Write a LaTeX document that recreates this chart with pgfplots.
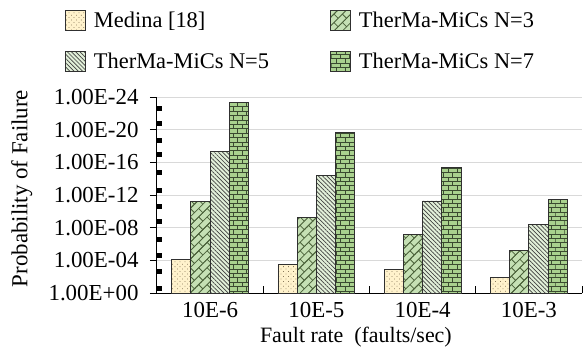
\documentclass[border=0pt]{standalone}
\usepackage{fontspec}
\setmainfont{Liberation Serif}
\usepackage{pgfplots}
\pgfplotsset{compat=1.18}
\usetikzlibrary{patterns.meta}

\definecolor{medfill}{HTML}{FFF2CC}
\definecolor{meddot}{HTML}{8A7A5C}
\definecolor{nthreefill}{HTML}{C5E0B4}
\definecolor{nthreeline}{HTML}{4A6139}
\definecolor{nfivefill}{HTML}{E2F0D9}
\definecolor{nfiveline}{HTML}{404040}
\definecolor{nsevenfill}{HTML}{A9D18E}
\definecolor{nsevenline}{HTML}{3A4A30}
\definecolor{baredge}{HTML}{303030}

\pgfdeclarepattern{
  name=dbricks, type=uncolored,
  bottom left={\pgfpoint{-0.5pt}{-0.5pt}},
  top right={\pgfpoint{12.5pt}{12.5pt}},
  tile size={\pgfpoint{12pt}{12pt}},
  tile transformation={\pgftransformrotate{45}},
  code={
    \pgfsetlinewidth{0.8pt}
    \pgfpathmoveto{\pgfpoint{0pt}{0pt}}\pgfpathlineto{\pgfpoint{12pt}{0pt}}
    \pgfpathmoveto{\pgfpoint{0pt}{6pt}}\pgfpathlineto{\pgfpoint{12pt}{6pt}}
    \pgfpathmoveto{\pgfpoint{0pt}{12pt}}\pgfpathlineto{\pgfpoint{12pt}{12pt}}
    \pgfpathmoveto{\pgfpoint{0pt}{0pt}}\pgfpathlineto{\pgfpoint{0pt}{6pt}}
    \pgfpathmoveto{\pgfpoint{6pt}{6pt}}\pgfpathlineto{\pgfpoint{6pt}{12pt}}
    \pgfusepath{stroke}
  }
}
\pgfdeclarepattern{
  name=hbricks, type=uncolored,
  bottom left={\pgfpoint{-0.5pt}{-0.5pt}},
  top right={\pgfpoint{9.5pt}{9.3pt}},
  tile size={\pgfpoint{9pt}{8.8pt}},
  code={
    \pgfsetlinewidth{0.9pt}
    \pgfpathmoveto{\pgfpoint{0pt}{0pt}}\pgfpathlineto{\pgfpoint{9pt}{0pt}}
    \pgfpathmoveto{\pgfpoint{0pt}{4.4pt}}\pgfpathlineto{\pgfpoint{9pt}{4.4pt}}
    \pgfpathmoveto{\pgfpoint{0pt}{8.8pt}}\pgfpathlineto{\pgfpoint{9pt}{8.8pt}}
    \pgfpathmoveto{\pgfpoint{0pt}{0pt}}\pgfpathlineto{\pgfpoint{0pt}{4.4pt}}
    \pgfpathmoveto{\pgfpoint{4.5pt}{4.4pt}}\pgfpathlineto{\pgfpoint{4.5pt}{8.8pt}}
    \pgfusepath{stroke}
  }
}

\begin{document}
\begin{tikzpicture}[font=\fontsize{23}{27}\selectfont]
\begin{axis}[
  scale only axis, width=425bp, height=196bp,
  xmin=-0.5, xmax=3.5, ymin=0, ymax=24,
  axis lines*=left,
  axis line style={black, line width=1bp},
  ybar=0pt, bar width=0.181,
  xtick={0.5,1.5,2.5,3.5}, xticklabels={},
  extra x ticks={0,1,2,3},
  extra x tick labels={10E-6,10E-5,10E-4,10E-3},
  extra x tick style={major tick length=0pt},
  xticklabel style={yshift=-6bp, font=\fontsize{23}{27}\selectfont},
  ytick={0,4,8,12,16,20,24},
  yticklabels={1.00E+00,1.00E-04,1.00E-08,1.00E-12,1.00E-16,1.00E-20,1.00E-24},
  minor ytick={0.5,2.6,4.6,6.6,8.7,10.6,12.6,14.8,16.9,18.7,20.8,22.6},
  tick align=inside, major tick length=7bp, minor tick length=5bp,
  major y tick style={xshift=-7bp, line width=1bp, black},
  major x tick style={line width=1bp, black},
  minor y tick style={line width=5bp, black},
  yticklabel style={xshift=-15bp, font=\fontsize{23}{27}\selectfont},
  ymajorgrids, grid style={draw=gray!30, line width=1bp},
  every axis y label/.style={at={(rel axis cs:-0.318,0.533)}, rotate=90, anchor=center, font=\fontsize{23}{27}\selectfont},
  every axis x label/.style={at={(rel axis cs:0.468,-0.224)}, anchor=center, inner sep=1bp, font=\fontsize{22}{26}\selectfont},
  ylabel={Probability of Failure},
  xlabel={Fault rate\ \ (faults/sec)},
  legend columns=2,
  legend cell align=left,
  legend style={at={(rel axis cs:-0.2165,1.444)}, anchor=north west, draw=none, fill=none,
    inner sep=0pt, row sep=20bp,
    nodes={inner sep=0pt, font=\fontsize{22.5}{26}\selectfont},
    /tikz/every odd column/.append style={column sep=8bp},
    /tikz/every even column/.append style={column sep=61bp}},
  legend image code/.code={\draw[#1] (0bp,-10bp) rectangle (20bp,10bp);},
]
\coordinate (O) at (rel axis cs:0,0);
\addplot[bar shift=-0.2715, fill=medfill, draw=baredge, line width=0.8bp,
  postaction={pattern={Dots[distance=3.5pt, radius=0.55pt, angle=45]}, pattern color=meddot}]
  coordinates {(0,4.15) (1,3.46) (2,2.93) (3,1.90)};
\addlegendentry{Medina [18]}
\addplot[bar shift=-0.0905, fill=nthreefill, draw=baredge, line width=0.8bp,
  postaction={pattern=dbricks, pattern color=nthreeline}]
  coordinates {(0,11.18) (1,9.28) (2,7.20) (3,5.16)};
\addlegendentry{TherMa-MiCs N=3}
\addplot[bar shift=0.0905, fill=nfivefill, draw=baredge, line width=0.8bp,
  postaction={pattern={Lines[angle=-45, distance=3pt, line width=0.7pt]}, pattern color=nfiveline}]
  coordinates {(0,17.37) (1,14.44) (2,11.27) (3,8.42)};
\addlegendentry{TherMa-MiCs N=5}
\addplot[bar shift=0.2715, fill=nsevenfill, draw=baredge, line width=0.8bp,
  postaction={pattern=hbricks, pattern color=nsevenline}]
  coordinates {(0,23.32) (1,19.66) (2,15.34) (3,11.48)};
\addlegendentry{TherMa-MiCs N=7}
\end{axis}
\pgfresetboundingbox
\path[use as bounding box] ([xshift=-157bp,yshift=-55bp]O) rectangle ([xshift=427bp,yshift=293bp]O);
\end{tikzpicture}
\end{document}
